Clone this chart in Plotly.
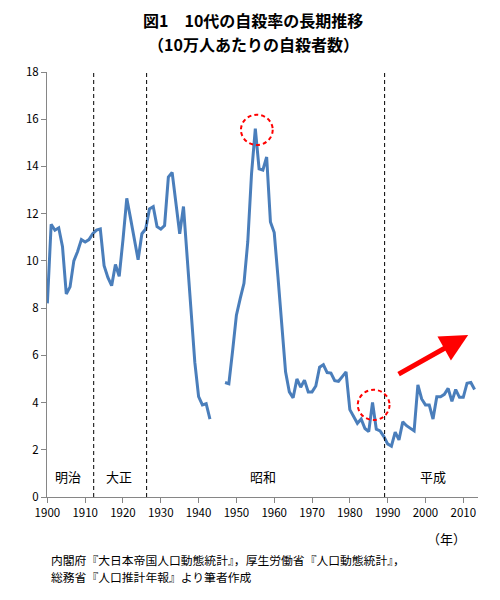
import plotly.graph_objects as go

# 10代の自殺率（10万人あたり）, 1900-2013; 1944-1946 はデータなし
years = list(range(1900, 2014))
rate = [
    8.2, 11.55, 11.3, 11.4, 10.6, 8.6, 8.9, 10.0, 10.4, 10.9,        # 1900s
    10.8, 10.9, 11.15, 11.3, 11.35, 9.8, 9.3, 8.95, 9.85, 9.35,     # 1910s
    10.9, 12.65, 11.8, 10.9, 10.05, 11.15, 11.35, 12.2, 12.3, 11.45,  # 1920s
    11.35, 11.5, 13.55, 13.75, 12.5, 11.15, 12.3, 10.0, 7.8, 5.7,   # 1930s
    4.25, 3.9, 3.95, 3.3, None, None, None, 4.85, 4.8, 6.2,         # 1940s
    7.7, 8.4, 9.05, 10.8, 13.7, 15.6, 13.9, 13.85, 14.4, 11.65,     # 1950s
    11.2, 9.3, 7.1, 5.3, 4.45, 4.2, 5.0, 4.65, 4.95, 4.45,          # 1960s
    4.45, 4.7, 5.5, 5.6, 5.27, 5.25, 4.93, 4.9, 5.1, 5.3,           # 1970s
    3.7, 3.4, 3.12, 3.3, 2.9, 2.77, 4.0, 2.87, 2.8, 2.56,           # 1980s
    2.25, 2.15, 2.75, 2.42, 3.18, 3.02, 2.9, 2.8, 4.75, 4.15,       # 1990s
    3.9, 3.9, 3.3, 4.25, 4.25, 4.35, 4.6, 4.05, 4.55, 4.22,         # 2000s
    4.22, 4.82, 4.85, 4.55,                                         # 2010s
]

era_names = ["明治", "大正", "昭和", "平成"]
era_label_x = [1905.5, 1919, 1957, 2002]
era_breaks = [1912.25, 1926.25, 1989.2]

x_ticks = list(range(1900, 2011, 10))
y_ticks = list(range(0, 19, 2))

FONT = "Noto Sans CJK JP"

fig = go.Figure()
fig.add_trace(go.Scatter(
    x=years, y=rate, mode="lines",
    line=dict(color="#4A7EBB", width=3),
    connectgaps=False, hoverinfo="skip",
))

shapes = []
for xb in era_breaks:
    shapes.append(dict(type="line", xref="x", yref="y", x0=xb, x1=xb, y0=0, y1=18,
                       line=dict(color="black", width=1, dash="4px,3px")))
# red dashed circles around the 1955 and 1986 peaks
shapes.append(dict(type="circle", xref="x", yref="y", x0=1951.2, x1=1959.6, y0=14.91, y1=16.19,
                   line=dict(color="#FF0000", width=2, dash="4px,3px")))
shapes.append(dict(type="circle", xref="x", yref="y", x0=1982.1, x1=1990.5, y0=3.26, y1=4.54,
                   line=dict(color="#FF0000", width=2, dash="4px,3px")))

annotations = []
for name, xl in zip(era_names, era_label_x):
    annotations.append(dict(x=xl, y=0.85, xref="x", yref="y", text=name, showarrow=False,
                            font=dict(family=FONT, size=13, color="#000")))

# rising trend arrow
annotations.append(dict(x=2011.3, y=6.86, ax=1992.5, ay=5.17, xref="x", yref="y",
                        axref="x", ayref="y", text="", showarrow=True,
                        arrowhead=2, arrowsize=1.1, arrowwidth=5, arrowcolor="#FF0000",
                        standoff=0, startstandoff=0))

annotations += [
    dict(x=0.4786, y=1.1224, xref="paper", yref="paper", showarrow=False, yanchor="middle",
         text="<b>図1　10代の自殺率の長期推移</b>",
         font=dict(family=FONT, size=16, color="#000")),
    dict(x=0.4786, y=1.0659, xref="paper", yref="paper", showarrow=False, yanchor="middle",
         text="<b>（10万人あたりの自殺者数）</b>",
         font=dict(family=FONT, size=16, color="#000")),
    dict(x=0.977, y=-0.0965, xref="paper", yref="paper", showarrow=False, yanchor="middle",
         text="（年）", font=dict(family=FONT, size=13, color="#000")),
    dict(x=0.004, y=-0.146, xref="paper", yref="paper", showarrow=False,
         xanchor="left", yanchor="middle",
         text="内閣府『大日本帝国人口動態統計』，厚生労働省『人口動態統計』，",
         font=dict(family=FONT, size=11.8, color="#000")),
    dict(x=0.004, y=-0.186, xref="paper", yref="paper", showarrow=False,
         xanchor="left", yanchor="middle",
         text="総務省『人口推計年報』より筆者作成",
         font=dict(family=FONT, size=11.8, color="#000")),
]

# page body has an 8px margin, so the figure is sized and offset for it
fig.update_layout(
    width=492, height=592, autosize=False,
    margin=dict(l=39, r=22, t=64, b=103),
    paper_bgcolor="white", plot_bgcolor="white",
    showlegend=False,
    font=dict(family=FONT, color="#000"),
    shapes=shapes, annotations=annotations,
)
fig.update_xaxes(
    range=[1899.9, 2013.9], tickmode="array", tickvals=x_ticks,
    ticks="outside", ticklen=5, tickcolor="#868686",
    showline=True, linecolor="#868686", linewidth=1,
    showgrid=False, zeroline=False, tickfont=dict(size=11.5, color="#000"),
)
fig.update_yaxes(
    range=[0, 18], tickmode="array", tickvals=y_ticks,
    ticks="outside", ticklen=5, tickcolor="#868686",
    showline=True, linecolor="#868686", linewidth=1,
    showgrid=False, zeroline=False, tickfont=dict(size=11.5, color="#000"),
)

fig.write_html("out.html")
